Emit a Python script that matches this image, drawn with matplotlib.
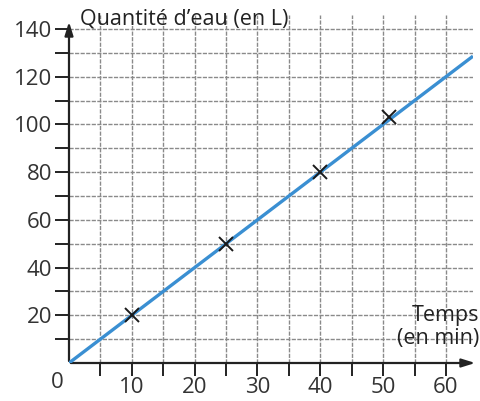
import matplotlib
matplotlib.use("Agg")
import matplotlib.pyplot as plt
import numpy as np

# Data
line_time = [0, 64.3]
line_water = [0, 128.6]
pts_time = [10, 25, 40, 51]
pts_water = [20, 50, 80, 103]
xtick_vals = [10, 20, 30, 40, 50, 60]
ytick_vals = [20, 40, 60, 80, 100, 120, 140]
x_minor = [5, 15, 25, 35, 45, 55]
y_minor = [10, 30, 50, 70, 90, 110, 130]
ylabel_text = "Quantité d’eau (en L)"
xlabel_text = "Temps\n(en min)"

plt.rcParams['font.family'] = ['Open Sans', 'DejaVu Sans']

W, H = 481, 401
fig = plt.figure(figsize=(W/100, H/100), dpi=100)
x0px, y0px = 69, 363
sx, sy = 6.283, 2.386
xmax, ymax = 64.3, 146
ax = fig.add_axes([x0px/W, (H - y0px)/H, xmax*sx/W, ymax*sy/H])
ax.set_xlim(0, xmax)
ax.set_ylim(0, ymax)

for s in ax.spines.values():
    s.set_visible(False)

# grid
gkw = dict(color='#8a8a8a', lw=1.0, ls=(0, (3, 1)), zorder=1)
for v in sorted(xtick_vals + x_minor):
    ax.axvline(v, **gkw)
for v in sorted(ytick_vals + y_minor):
    ax.axhline(v, **gkw)

# ticks
ax.set_xticks(xtick_vals)
ax.set_xticks(x_minor, minor=True)
ax.set_yticks(ytick_vals)
ax.set_yticks(y_minor, minor=True)
ax.tick_params(axis='both', which='both', direction='out', color='#222222', width=1.4)
ax.tick_params(axis='x', which='both', length=9, pad=1, labelsize=16, labelcolor='#333333')
ax.tick_params(axis='y', which='both', length=10, pad=2, labelsize=16, labelcolor='#333333')

# axes arrows
ax.annotate('', xy=(478/W, (H - y0px)/H), xytext=(x0px/W - 0.002, (H - y0px)/H),
            xycoords='figure fraction', textcoords='figure fraction',
            arrowprops=dict(arrowstyle='-|>,head_length=0.8,head_width=0.25', color='#222222', lw=1.6))
ax.annotate('', xy=(x0px/W, (H - 19)/H), xytext=(x0px/W, (H - y0px)/H - 0.002),
            xycoords='figure fraction', textcoords='figure fraction',
            arrowprops=dict(arrowstyle='-|>,head_length=0.8,head_width=0.25', color='#222222', lw=1.6))

# line and points
ax.plot(line_time, line_water, color='#3a8fd2', lw=2.4, zorder=3, solid_capstyle='butt')
ax.plot(pts_time, pts_water, ls='none', marker='x', color='#1a1a1a', ms=10, mew=1.4, zorder=4)

# texts
fig.text(57/W, (H - 383)/H, '0', fontsize=16, color='#333333', ha='center', va='center')
fig.text(80/W, (H - 19)/H, ylabel_text, fontsize=15.5, color='#222222', ha='left', va='center')
fig.text(479/W, (H - 327)/H, xlabel_text, fontsize=15.5, color='#222222', ha='right', va='center',
         linespacing=1.15, multialignment='right')

fig.savefig('out.png', dpi=100)
